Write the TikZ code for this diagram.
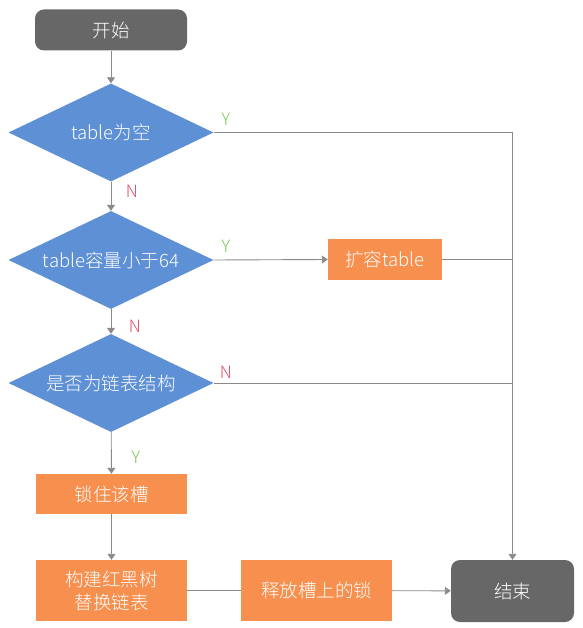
\documentclass[tikz,border=0pt]{standalone}
\usepackage{fontspec}
\setmainfont{Noto Sans CJK SC Light}
\usetikzlibrary{shapes.geometric,arrows.meta}
\definecolor{termgray}{HTML}{676767}
\definecolor{decblue}{HTML}{5E90D6}
\definecolor{stepor}{HTML}{F7904F}
\definecolor{linegray}{HTML}{8A8A8A}
\definecolor{yesgreen}{HTML}{7DC25A}
\definecolor{nored}{HTML}{E2506A}
\begin{document}
\begin{tikzpicture}[x=1pt,y=-1pt,
  base/.style={text=white,font=\fontsize{18.5}{23}\selectfont,inner sep=0pt,align=center},
  term/.style={base,fill=termgray,rounded corners=9pt},
  decision/.style={base,diamond,fill=decblue,minimum width=205pt,minimum height=98pt,aspect=2.09},
  stepbox/.style={base,fill=stepor},
  flow/.style={draw=linegray,line width=0.9pt},
  arr/.style={flow,-{Triangle[width=8pt,length=6pt]}},
  yes/.style={text=yesgreen,font=\fontsize{17}{19}\selectfont},
  no/.style={text=nored,font=\fontsize{17}{19}\selectfont}]
\useasboundingbox (0,0) rectangle (582,628);

\node[term,minimum width=152pt,minimum height=41pt] (start) at (111,30) {开始};
\node[decision] (d1) at (111,132.5) {table为空};
\node[decision] (d2) at (111,260) {table容量小于64};
\node[decision] (d3) at (111,383) {是否为链表结构};
\node[stepbox,minimum width=151pt,minimum height=40pt] (lock) at (111.5,494) {锁住该槽};
\node[stepbox,minimum width=151pt,minimum height=61pt] (build) at (111.5,590.5) {构建红黑树\\替换链表};
\node[stepbox,minimum width=151pt,minimum height=61pt] (release) at (316.5,590.5) {释放槽上的锁};
\node[stepbox,minimum width=114pt,minimum height=41pt] (expand) at (385,259.5) {扩容table};
\node[term,minimum width=123pt,minimum height=62pt] (end) at (512.5,591) {结束};

\draw[arr] (start) -- (d1);
\draw[arr] (d1) -- (d2);
\draw[arr] (d2) -- (d3);
\draw[arr] (d3) -- (lock);
\draw[arr] (lock) -- (build);
\draw[flow] (build) -- (release);
\draw[arr] (release) -- (end);
\draw[arr] (d2.east) -- (expand.west);
\draw[arr] (d1.east) -- (d1.east -| end.north) -- (end.north);
\draw[flow] (expand.east) -- (expand.east -| end.north);
\draw[flow] (d3.east) -- (d3.east -| end.north);

\node[yes] (y1) at (226,119) {Y};
\node[no] (n1) at (132,191) {N};
\node[yes] (y2) at (226,246) {Y};
\node[no] (n2) at (135,326) {N};
\node[no] (n3) at (226,372) {N};
\node[yes] (y3) at (136,457) {Y};
\end{tikzpicture}
\end{document}
